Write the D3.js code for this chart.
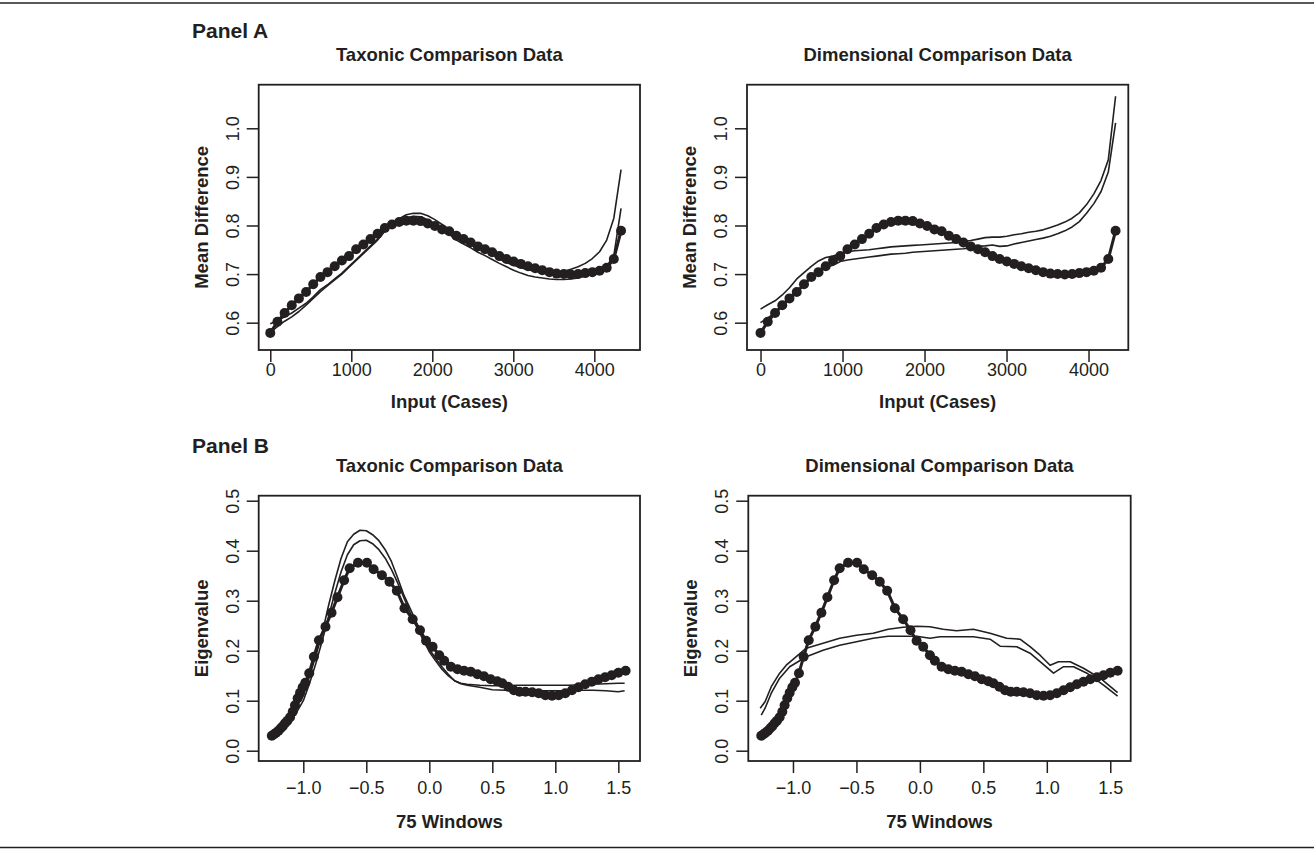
<!DOCTYPE html>
<html><head><meta charset="utf-8">
<script src="https://cdn.jsdelivr.net/npm/d3@7"></script>
<style>body{margin:0;background:#fff;} svg{display:block;}</style>
</head><body><svg id="c" width="1314" height="849"></svg>
<script>
// ---------------- DATA ----------------
// Panel A: input (cases) positions of the 50 MAMBAC cuts
const casesX = [0, 88, 177, 265, 353, 442, 530, 619, 707, 795, 884, 972, 1060, 1149, 1237, 1325, 1414, 1502, 1591, 1679, 1767, 1856, 1944, 2032, 2121, 2209, 2297, 2386, 2474, 2563, 2651, 2739, 2828, 2916, 3004, 3093, 3181, 3270, 3358, 3446, 3535, 3623, 3711, 3800, 3888, 3976, 4065, 4153, 4241, 4330];
// research data mean differences (dots)
const researchA = [0.579, 0.602, 0.620, 0.636, 0.650, 0.663, 0.679, 0.694, 0.704, 0.716, 0.728, 0.737, 0.751, 0.761, 0.772, 0.783, 0.795, 0.802, 0.807, 0.810, 0.810, 0.809, 0.804, 0.799, 0.792, 0.788, 0.779, 0.772, 0.765, 0.757, 0.751, 0.745, 0.737, 0.731, 0.726, 0.721, 0.716, 0.712, 0.708, 0.704, 0.701, 0.700, 0.699, 0.700, 0.702, 0.704, 0.707, 0.713, 0.731, 0.789];
// taxonic comparison data (two lines)
const taxA1 = [0.598, 0.604, 0.612, 0.620, 0.630, 0.640, 0.653, 0.668, 0.678, 0.690, 0.702, 0.716, 0.730, 0.744, 0.758, 0.772, 0.790, 0.805, 0.814, 0.822, 0.825, 0.825, 0.820, 0.812, 0.802, 0.792, 0.780, 0.772, 0.764, 0.756, 0.748, 0.740, 0.731, 0.724, 0.718, 0.713, 0.709, 0.706, 0.704, 0.703, 0.704, 0.706, 0.710, 0.715, 0.722, 0.732, 0.746, 0.770, 0.815, 0.915];
const taxA2 = [0.580, 0.592, 0.603, 0.612, 0.623, 0.636, 0.650, 0.664, 0.676, 0.688, 0.700, 0.714, 0.728, 0.742, 0.756, 0.770, 0.788, 0.802, 0.810, 0.816, 0.819, 0.818, 0.812, 0.803, 0.792, 0.782, 0.770, 0.762, 0.754, 0.745, 0.738, 0.730, 0.722, 0.715, 0.708, 0.702, 0.697, 0.694, 0.692, 0.690, 0.689, 0.689, 0.690, 0.692, 0.696, 0.700, 0.706, 0.716, 0.738, 0.835];
// dimensional comparison data (two lines)
const dimA1 = [0.628, 0.637, 0.645, 0.657, 0.672, 0.690, 0.703, 0.716, 0.727, 0.734, 0.737, 0.742, 0.746, 0.748, 0.749, 0.750, 0.752, 0.754, 0.756, 0.757, 0.758, 0.759, 0.760, 0.761, 0.762, 0.763, 0.764, 0.765, 0.767, 0.769, 0.772, 0.775, 0.776, 0.776, 0.778, 0.781, 0.783, 0.786, 0.788, 0.791, 0.796, 0.801, 0.807, 0.815, 0.826, 0.843, 0.865, 0.893, 0.935, 1.066];
const dimA2 = [0.600, 0.610, 0.620, 0.633, 0.648, 0.662, 0.678, 0.692, 0.705, 0.714, 0.718, 0.726, 0.729, 0.731, 0.733, 0.735, 0.737, 0.739, 0.741, 0.742, 0.743, 0.745, 0.746, 0.747, 0.748, 0.749, 0.750, 0.751, 0.752, 0.754, 0.757, 0.758, 0.760, 0.757, 0.758, 0.762, 0.765, 0.768, 0.771, 0.774, 0.778, 0.783, 0.789, 0.797, 0.808, 0.825, 0.845, 0.870, 0.910, 1.011];

// Panel B: 75-window MAXEIG positions and eigenvalues (dots)
const windowX = [-1.250, -1.232, -1.216, -1.197, -1.179, -1.163, -1.145, -1.126, -1.105, -1.084, -1.066, -1.045, -1.026, -1.005, -0.984, -0.953, -0.916, -0.876, -0.824, -0.776, -0.729, -0.676, -0.632, -0.566, -0.495, -0.442, -0.376, -0.316, -0.258, -0.197, -0.132, -0.074, -0.026, 0.026, 0.079, 0.118, 0.171, 0.224, 0.276, 0.329, 0.382, 0.434, 0.487, 0.539, 0.579, 0.626, 0.671, 0.716, 0.763, 0.816, 0.868, 0.921, 0.974, 1.026, 1.079, 1.132, 1.184, 1.237, 1.289, 1.342, 1.395, 1.447, 1.500, 1.558];
const researchB = [0.030, 0.033, 0.036, 0.040, 0.045, 0.049, 0.055, 0.060, 0.067, 0.078, 0.091, 0.105, 0.116, 0.127, 0.136, 0.155, 0.188, 0.221, 0.248, 0.276, 0.307, 0.341, 0.365, 0.376, 0.376, 0.363, 0.351, 0.338, 0.320, 0.285, 0.263, 0.241, 0.220, 0.208, 0.191, 0.180, 0.168, 0.163, 0.160, 0.158, 0.153, 0.149, 0.143, 0.139, 0.135, 0.128, 0.121, 0.118, 0.118, 0.117, 0.115, 0.111, 0.110, 0.111, 0.115, 0.121, 0.127, 0.133, 0.138, 0.143, 0.147, 0.151, 0.156, 0.160];
// taxonic comparison curves
const taxBX = [-1.22, -1.15, -1.10, -1.05, -1.00, -0.95, -0.90, -0.85, -0.80, -0.75, -0.70, -0.65, -0.60, -0.55, -0.50, -0.45, -0.40, -0.35, -0.30, -0.25, -0.20, -0.15, -0.10, -0.05, 0.00, 0.05, 0.10, 0.15, 0.20, 0.25, 0.30, 0.40, 0.50, 0.60, 0.70, 0.80, 0.90, 1.00, 1.10, 1.20, 1.30, 1.40, 1.50, 1.55];
const taxB1 = [0.035, 0.050, 0.070, 0.090, 0.110, 0.150, 0.190, 0.235, 0.290, 0.340, 0.385, 0.418, 0.433, 0.441, 0.440, 0.432, 0.420, 0.402, 0.378, 0.345, 0.310, 0.283, 0.255, 0.228, 0.203, 0.185, 0.168, 0.153, 0.140, 0.134, 0.131, 0.127, 0.122, 0.121, 0.120, 0.120, 0.120, 0.120, 0.120, 0.121, 0.121, 0.120, 0.118, 0.120];
const taxB2 = [0.030, 0.045, 0.060, 0.078, 0.100, 0.135, 0.175, 0.220, 0.268, 0.315, 0.358, 0.392, 0.412, 0.420, 0.421, 0.414, 0.402, 0.385, 0.362, 0.335, 0.305, 0.275, 0.248, 0.222, 0.198, 0.180, 0.163, 0.150, 0.140, 0.135, 0.133, 0.131, 0.130, 0.130, 0.131, 0.131, 0.131, 0.131, 0.131, 0.132, 0.133, 0.134, 0.135, 0.135];
// dimensional comparison curves
const dimB1X = [-1.258, -1.220, -1.171, -1.105, -1.053, -0.974, -0.895, -0.763, -0.632, -0.500, -0.368, -0.250, -0.132, -0.026, 0.079, 0.184, 0.289, 0.421, 0.553, 0.684, 0.789, 0.868, 0.947, 1.026, 1.092, 1.184, 1.289, 1.421, 1.558];
const dimB1 = [0.085, 0.098, 0.128, 0.155, 0.171, 0.188, 0.205, 0.215, 0.225, 0.231, 0.235, 0.243, 0.247, 0.249, 0.248, 0.243, 0.240, 0.243, 0.235, 0.225, 0.223, 0.208, 0.191, 0.171, 0.178, 0.178, 0.165, 0.145, 0.116];
const dimB2X = [-1.250, -1.220, -1.171, -1.105, -1.026, -0.895, -0.763, -0.632, -0.500, -0.368, -0.250, -0.132, -0.026, 0.079, 0.158, 0.289, 0.421, 0.553, 0.632, 0.763, 0.868, 0.947, 1.053, 1.132, 1.211, 1.316, 1.447, 1.558];
const dimB2 = [0.071, 0.085, 0.115, 0.145, 0.168, 0.188, 0.201, 0.211, 0.218, 0.225, 0.229, 0.229, 0.229, 0.225, 0.228, 0.228, 0.228, 0.223, 0.209, 0.208, 0.195, 0.178, 0.155, 0.168, 0.168, 0.155, 0.131, 0.109];

// tick values and labels
const casesTicks = [0, 1000, 2000, 3000, 4000];
const mdTicks = [0.6, 0.7, 0.8, 0.9, 1.0];
const windowTicks = [-1.0, -0.5, 0.0, 0.5, 1.0, 1.5];
const eigTicks = [0.0, 0.1, 0.2, 0.3, 0.4, 0.5];

const panelLabels = ["Panel A", "Panel B"];
const titles = ["Taxonic Comparison Data", "Dimensional Comparison Data"];
const xTitles = ["Input (Cases)", "75 Windows"];
const yTitles = ["Mean Difference", "Eigenvalue"];

// ---------------- DRAW ----------------
const INK = "#231f20";
const FONT = "'Liberation Sans', Arial, Helvetica, sans-serif";
const svg = d3.select("#c");

// outer frame lines
svg.append("line").attr("x1", 0).attr("x2", 1314).attr("y1", 3).attr("y2", 3).attr("stroke", INK).attr("stroke-width", 1.5);
svg.append("line").attr("x1", 0).attr("x2", 1314).attr("y1", 847.5).attr("y2", 847.5).attr("stroke", INK).attr("stroke-width", 1.5);

function txt(x, y, s, size, weight, anchor, rot) {
  const t = svg.append("text").text(s)
    .attr("fill", INK).style("font-family", FONT).style("font-size", size + "px")
    .style("font-weight", weight).attr("text-anchor", anchor);
  if (rot) t.attr("transform", `translate(${x},${y}) rotate(-90)`);
  else t.attr("x", x).attr("y", y);
  return t;
}

const fmt1 = d => d.toFixed(1).replace("-", "\u2212");

function panel(cfg) {
  const x = d3.scaleLinear().domain(cfg.xDom).range([cfg.left, cfg.right]);
  const y = d3.scaleLinear().domain(cfg.yDom).range([cfg.bottom, cfg.top]);
  const g = svg.append("g");
  const line = d3.line().x(d => x(d[0])).y(d => y(d[1]));

  cfg.lines.forEach(l => {
    g.append("path").datum(d3.zip(l[0], l[1])).attr("d", line)
      .attr("fill", "none").attr("stroke", INK).attr("stroke-width", 1.6).attr("stroke-linejoin", "round");
  });
  const pts = d3.zip(cfg.dots[0], cfg.dots[1]);
  g.append("path").datum(pts).attr("d", line)
    .attr("fill", "none").attr("stroke", INK).attr("stroke-width", 3).attr("stroke-linejoin", "round");
  g.selectAll("circle.dot").data(pts).join("circle").attr("class", "dot")
    .attr("cx", d => x(d[0])).attr("cy", d => y(d[1])).attr("r", 5).attr("fill", INK);

  g.append("rect").attr("x", cfg.left).attr("y", cfg.top)
    .attr("width", cfg.right - cfg.left).attr("height", cfg.bottom - cfg.top)
    .attr("fill", "none").attr("stroke", INK).attr("stroke-width", 1.8);

  const xa = g.append("g").attr("transform", `translate(0,${cfg.bottom})`)
    .call(d3.axisBottom(x).tickValues(cfg.xTicks).tickFormat(cfg.xFmt).tickSize(12).tickSizeOuter(0));
  xa.select(".domain").remove();
  xa.selectAll("line").attr("stroke", INK).attr("stroke-width", 1.5);
  xa.selectAll("text").attr("y", cfg.xLabOff).attr("dy", 0).attr("fill", INK)
    .style("font-family", FONT).style("font-size", "18px");

  const ya = g.append("g").attr("transform", `translate(${cfg.left},0)`)
    .call(d3.axisLeft(y).tickValues(cfg.yTicks).tickFormat(fmt1).tickSize(12).tickSizeOuter(0));
  ya.select(".domain").remove();
  ya.selectAll("line").attr("stroke", INK).attr("stroke-width", 1.5);
  ya.selectAll("text").attr("x", null).attr("dy", 0).attr("text-anchor", "middle")
    .attr("transform", "translate(-20,0) rotate(-90)").attr("fill", INK)
    .style("font-family", FONT).style("font-size", "18px");

  const cx = (cfg.left + cfg.right) / 2, cy = (cfg.top + cfg.bottom) / 2;
  txt(cx, cfg.top - 24, cfg.title, 18.5, "bold", "middle");
  txt(cx, cfg.bottom + cfg.xTitleOff, cfg.xTitle, 18.5, "bold", "middle");
  txt(cfg.left - 51, cy, cfg.yTitle, 18.5, "bold", "middle", true);
}

const topY = [0.5438, 1.0897], botY = [-0.0206, 0.51];

panel({ left: 258.7, right: 640, top: 84.7, bottom: 350, xDom: [-143, 4564], yDom: topY,
  xTicks: casesTicks, xFmt: d3.format("d"), yTicks: mdTicks, xLabOff: 26, xTitleOff: 58,
  title: titles[0], xTitle: xTitles[0], yTitle: yTitles[0],
  lines: [[casesX, taxA1], [casesX, taxA2]], dots: [casesX, researchA] });
panel({ left: 747, right: 1128.3, top: 84.7, bottom: 350, xDom: [-165, 4485], yDom: topY,
  xTicks: casesTicks, xFmt: d3.format("d"), yTicks: mdTicks, xLabOff: 26, xTitleOff: 58,
  title: titles[1], xTitle: xTitles[0], yTitle: yTitles[0],
  lines: [[casesX, dimA1], [casesX, dimA2]], dots: [casesX, researchA] });
panel({ left: 258.7, right: 640, top: 495.7, bottom: 761, xDom: [-1.354, 1.672], yDom: botY,
  xTicks: windowTicks, xFmt: fmt1, yTicks: eigTicks, xLabOff: 33, xTitleOff: 67,
  title: titles[0], xTitle: xTitles[1], yTitle: yTitles[1],
  lines: [[taxBX, taxB1], [taxBX, taxB2]], dots: [windowX, researchB] });
panel({ left: 748.3, right: 1130.7, top: 495.7, bottom: 761, xDom: [-1.352, 1.661], yDom: botY,
  xTicks: windowTicks, xFmt: fmt1, yTicks: eigTicks, xLabOff: 33, xTitleOff: 67,
  title: titles[1], xTitle: xTitles[1], yTitle: yTitles[1],
  lines: [[dimB1X, dimB1], [dimB2X, dimB2]], dots: [windowX, researchB] });

txt(192, 38, panelLabels[0], 21, "bold", "start");
txt(192, 453, panelLabels[1], 21, "bold", "start");
</script>
</body></html>
